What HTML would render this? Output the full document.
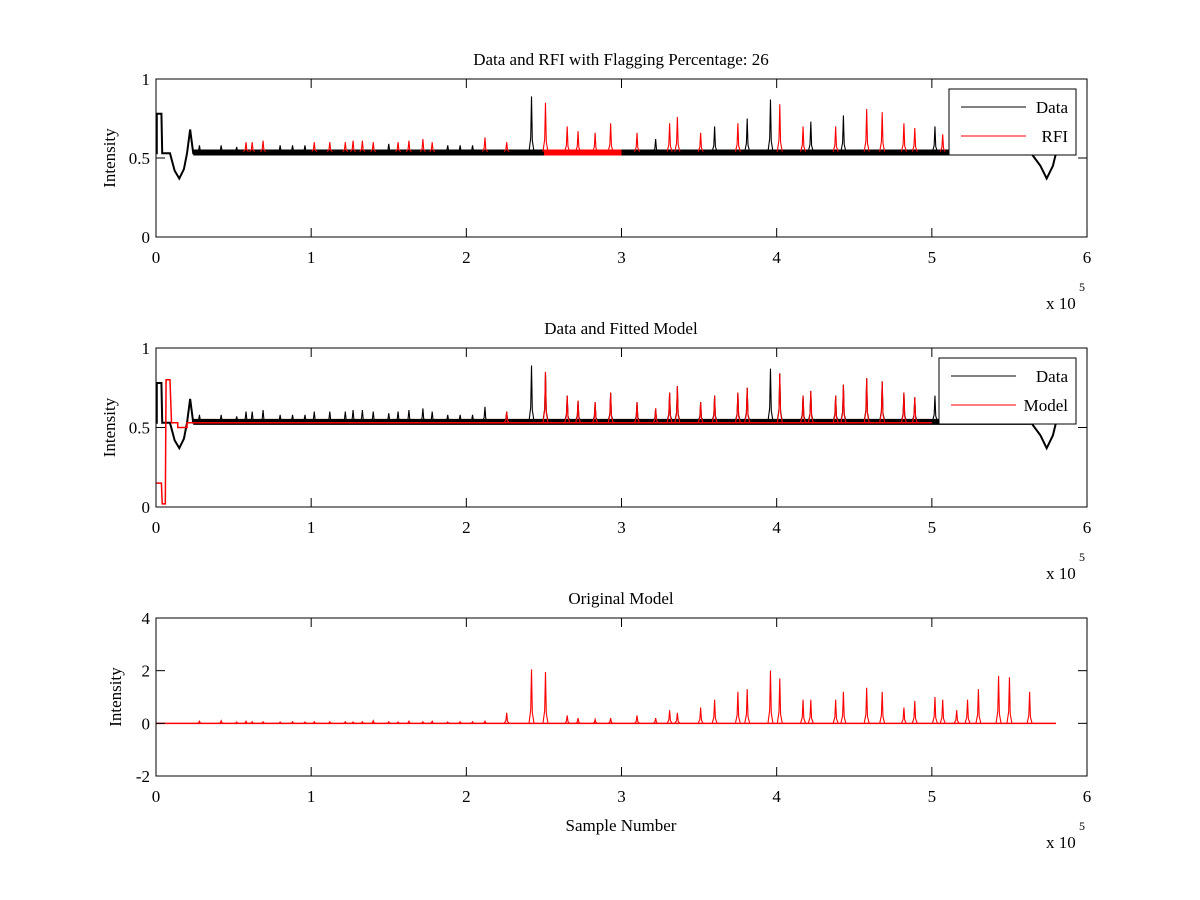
<!DOCTYPE html>
<html><head><meta charset="utf-8"><style>
body{margin:0;background:#fff;}
svg{display:block;font-family:"Liberation Serif",serif;}
</style></head><body>
<svg id="fig" width="1200" height="900" viewBox="0 0 1200 900" xmlns="http://www.w3.org/2000/svg">
<rect width="1200" height="900" fill="#fff"/>
</svg>
<script>
// spike positions (x 1e5), model height, data value, flagged (1 = RFI red in panel 1)
const spikeX    = [2.26,2.42,2.51,2.65,2.72,2.83,2.93,3.10,3.22,3.31,3.36,3.51,3.60,3.75,3.81,3.96,4.02,4.17,4.22,4.38,4.43,4.58,4.68,4.82,4.89,5.02,5.07,5.16,5.23,5.30,5.43,5.50,5.63];
const spikeModel= [0.4,2.05,1.95,0.3,0.2,0.15,0.2,0.3,0.2,0.5,0.4,0.6,0.9,1.2,1.3,2.0,1.7,0.9,0.9,0.9,1.2,1.35,1.2,0.6,0.85,1.0,0.9,0.5,0.9,1.3,1.8,1.75,1.2];
const spikeData = [0.60,0.89,0.85,0.70,0.67,0.66,0.72,0.66,0.62,0.72,0.76,0.66,0.70,0.72,0.75,0.87,0.84,0.70,0.73,0.70,0.77,0.81,0.79,0.72,0.69,0.70,0.65,0.62,0.67,0.70,0.70,0.69,0.66];
const spikeFlag = [1,0,1,1,1,1,1,1,0,1,1,1,0,1,0,0,1,1,0,1,0,1,1,1,1,0,1,0,1,0,1,0,0];
const smallX    = [0.28,0.42,0.52,0.58,0.62,0.69,0.80,0.88,0.96,1.02,1.12,1.22,1.27,1.33,1.40,1.50,1.56,1.63,1.72,1.78,1.88,1.96,2.04,2.12];
const smallData = [0.58,0.58,0.57,0.60,0.60,0.61,0.58,0.58,0.58,0.60,0.60,0.60,0.61,0.61,0.60,0.59,0.60,0.61,0.62,0.60,0.58,0.58,0.58,0.63];
const smallModel= [0.08,0.1,0.05,0.08,0.06,0.06,0.05,0.06,0.05,0.06,0.06,0.06,0.05,0.06,0.1,0.06,0.05,0.08,0.06,0.08,0.05,0.06,0.06,0.08];
const smallFlag = [0,0,0,1,1,1,0,0,0,1,1,1,1,1,1,0,1,1,1,1,0,0,0,1];
const xTicks = [0,1,2,3,4,5,6];
const y1Ticks = [0,0.5,1], y3Ticks=[-2,0,2,4];
const y1Labels = ["0","0.5","1"], y3Labels=["-2","0","2","4"];

const NS="http://www.w3.org/2000/svg", svg=document.getElementById('fig');
function el(t,a,p){const e=document.createElementNS(NS,t);for(const k in a)e.setAttribute(k,a[k]);(p||svg).appendChild(e);return e;}
const X=v=>156+v*155.17;
const panels=[
 {top:79,bot:237,min:0,max:1,ticks:y1Ticks,labels:y1Labels,title:"Data and RFI with Flagging Percentage: 26",name:"rfi-panel"},
 {top:348,bot:507,min:0,max:1,ticks:y1Ticks,labels:y1Labels,title:"Data and Fitted Model",name:"model-panel"},
 {top:618,bot:776,min:-2,max:4,ticks:y3Ticks,labels:y3Labels,title:"Original Model",name:"original-panel"}];
panels.forEach(p=>p.Y=v=>p.bot-(v-p.min)/(p.max-p.min)*(p.bot-p.top));

function spike(g,p,x,base,val,col){
  const e=el('polyline',{points:`${X(x)-2.5},${p.Y(base)} ${X(x)-0.8},${p.Y(base+(val-base)*0.25)} ${X(x)},${p.Y(val)} ${X(x)+0.8},${p.Y(base+(val-base)*0.2)} ${X(x)+2.5},${p.Y(base)}`,fill:'none',stroke:col,'stroke-width':1.1},g);
  
  
}
function dataTrace(g,p){
  const s=[[0,0.53],[0.005,0.53],[0.005,0.78],[0.035,0.78],[0.04,0.53],[0.09,0.53],[0.12,0.42],[0.15,0.37],[0.18,0.43],[0.2,0.53],[0.22,0.68],[0.24,0.53],[5.64,0.53],[5.7,0.45],[5.74,0.37],[5.78,0.45],[5.8,0.53]];
  const e=el('polyline',{points:s.map(q=>X(q[0])+','+p.Y(q[1])).join(' '),fill:'none',stroke:'#000','stroke-width':2},g);
  
  
  const b=el('line',{x1:X(0.24),x2:X(5.64),y1:p.Y(0.535),y2:p.Y(0.535),stroke:'#000','stroke-width':6},g);
  
  
}

panels.forEach((p,i)=>{
  const g=el('g',{});
  
  
  if(i===0){
    dataTrace(g,p);
    const r=el('line',{x1:X(2.5),x2:X(3.0),y1:p.Y(0.535),y2:p.Y(0.535),stroke:'#f00','stroke-width':6},g);
    
    
    smallX.forEach((x,k)=>spike(g,p,x,0.54,smallData[k],smallFlag[k]?'#f00':'#000'));
    spikeX.forEach((x,k)=>spike(g,p,x,0.54,spikeData[k],spikeFlag[k]?'#f00':'#000'));
  } else if(i===1){
    dataTrace(g,p);
    smallX.forEach((x,k)=>spike(g,p,x,0.54,smallData[k],'#000'));
    spikeX.forEach((x,k)=>spike(g,p,x,0.54,spikeData[k],'#000'));
    const m=[[0,0.15],[0.035,0.15],[0.04,0.02],[0.06,0.02],[0.065,0.8],[0.09,0.8],[0.1,0.53],[0.14,0.53],[0.14,0.5],[0.2,0.5],[0.2,0.53],[5.0,0.53]];
    const e=el('polyline',{points:m.map(q=>X(q[0])+','+p.Y(q[1])).join(' '),fill:'none',stroke:'#f00','stroke-width':1.5},g);
    
    
    spikeX.forEach((x,k)=>{ if(k%2===0||spikeFlag[k]) spike(g,p,x,0.53,spikeData[k],'#f00'); });
  } else {
    const e=el('line',{x1:X(0),x2:X(5.8),y1:p.Y(0),y2:p.Y(0),stroke:'#f00','stroke-width':1.5},g);
    
    
    smallX.forEach((x,k)=>spike(g,p,x,0,smallModel[k],'#f00'));
    spikeX.forEach((x,k)=>spike(g,p,x,0,spikeModel[k],'#f00'));
  }
  const bx=el('rect',{x:156,y:p.top,width:931,height:p.bot-p.top,fill:'none',stroke:'#000','stroke-width':1});
  
  
  xTicks.forEach(t=>{
    el('line',{x1:X(t),x2:X(t),y1:p.bot,y2:p.bot-9,stroke:'#000'});
    el('line',{x1:X(t),x2:X(t),y1:p.top,y2:p.top+9,stroke:'#000'});
    const tx=el('text',{x:X(t),y:p.bot+26,'text-anchor':'middle','font-size':17});
    tx.textContent=t;
    
    
  });
  p.ticks.forEach((t,k)=>{
    el('line',{x1:156,x2:165,y1:p.Y(t),y2:p.Y(t),stroke:'#000'});
    el('line',{x1:1087,x2:1078,y1:p.Y(t),y2:p.Y(t),stroke:'#000'});
    const tx=el('text',{x:150,y:p.Y(t)+6,'text-anchor':'end','font-size':17});
    tx.textContent=p.labels[k];
    
    
  });
  const ti=el('text',{x:621,y:p.top-14,'text-anchor':'middle','font-size':17});
  ti.textContent=p.title;
  
  
  const yl=el('text',{x:0,y:0,'text-anchor':'middle','font-size':17,transform:`translate(${i===2?121:115},${(p.top+p.bot)/2}) rotate(-90)`});
  yl.textContent='Intensity';
  
  
  const ex=el('text',{x:1046,y:p.bot+72,'font-size':17});
  ex.textContent='x 10';
  
  
  const e5=el('text',{x:1079,y:p.bot+54,'font-size':12});
  e5.textContent='5';
  
  
});
function legend(x,y,w,labels){
  const g=el('g',{});
  
  
  el('rect',{x:x,y:y,width:w,height:66,fill:'#fff',stroke:'#000'},g);
  labels.forEach((l,k)=>{
    el('line',{x1:x+12,x2:x+77,y1:y+18+k*29,y2:y+18+k*29,stroke:k?'#f00':'#000'},g);
    const t=el('text',{x:x+w-8,y:y+24+k*29,'text-anchor':'end','font-size':17},g);
    t.textContent=l;
    
    
  });
}
legend(949,89,127,['Data','RFI']);
legend(939,358,137,['Data','Model']);
const xl=el('text',{x:621,y:831,'text-anchor':'middle','font-size':17});
xl.textContent='Sample Number';


</script>
</body></html>
